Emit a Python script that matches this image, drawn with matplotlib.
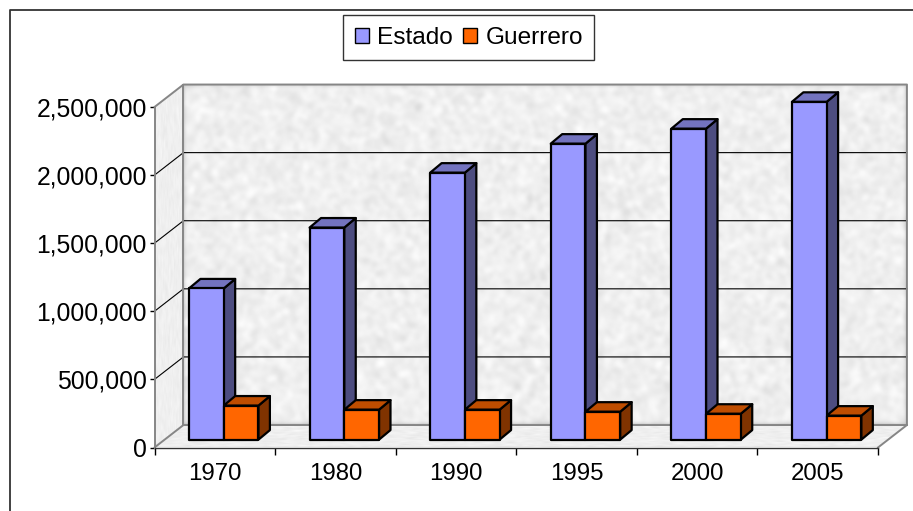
"""
plot.py
Estado vs Guerrero population, Excel style 3D column look
"""

import numpy as np
import matplotlib
matplotlib.use("Agg")
import matplotlib.pyplot as plt
from matplotlib.patches import Patch, Polygon

plt.rcParams["font.family"] = ["Liberation Sans", "DejaVu Sans"]

years = ["1970", "1980", "1990", "1995", "2000", "2005"]
estado = [1110000, 1557000, 1960000, 2173000, 2283000, 2480000]
guerrero = [250000, 220000, 220000, 205000, 190000, 176000]
y_ticks = [0, 500000, 1000000, 1500000, 2000000, 2500000]

# depth of the chart box, in data units
DX = 0.24
DY = 165000
# depth of a bar and where it sits inside the box
BAR_DX = 0.095
BAR_DY = 70000
BAR_Z = 0.35
BAR_W = 0.288
BAR_GAP = 0.202


def wall_texture(seed, shape=(340, 730)):
    """Mottled grey paper fill. Decoration only, carries no data."""
    rng = np.random.RandomState(seed)
    tex = rng.rand(*shape)
    for _ in range(3):
        k = np.ones(5) / 5
        tex = np.apply_along_axis(lambda r: np.convolve(r, k, mode="same"), 0, tex)
        tex = np.apply_along_axis(lambda r: np.convolve(r, k, mode="same"), 1, tex)
    tex = (tex - tex.mean()) / tex.std()
    return np.clip(0.935 + 0.022 * tex, 0, 1)


def textured(ax, pts, seed):
    """Fill a polygon (data coords) with the texture."""
    pts = np.array(pts)
    poly = Polygon(pts, closed=True, facecolor="none", edgecolor="none", clip_on=False)
    ax.add_patch(poly)
    im = ax.imshow(wall_texture(seed), cmap="gray", vmin=0, vmax=1, aspect="auto",
                   extent=(pts[:, 0].min(), pts[:, 0].max(), pts[:, 1].min(), pts[:, 1].max()),
                   interpolation="bilinear", zorder=0)
    im.set_clip_path(poly)
    im.set_clip_box(fig.bbox)


def draw_bar(ax, x, w, val, front, side, top):
    """One 3D column: front face, side face, top face."""
    x0 = x + BAR_Z * DX
    y0 = BAR_Z * DY
    x1 = x0 + w
    y1 = y0 + val
    ax.add_patch(Polygon([(x1, y0), (x1 + BAR_DX, y0 + BAR_DY), (x1 + BAR_DX, y1 + BAR_DY), (x1, y1)],
                         facecolor=side, edgecolor="black", lw=1.6, zorder=5, clip_on=False, joinstyle="round"))
    ax.add_patch(Polygon([(x0, y1), (x1, y1), (x1 + BAR_DX, y1 + BAR_DY), (x0 + BAR_DX, y1 + BAR_DY)],
                         facecolor=top, edgecolor="black", lw=1.6, zorder=5, clip_on=False, joinstyle="round"))
    ax.add_patch(Polygon([(x0, y0), (x1, y0), (x1, y1), (x0, y1)],
                         facecolor=front, edgecolor="black", lw=1.6, zorder=6, clip_on=False, joinstyle="round"))


fig = plt.figure(figsize=(9.13, 5.11), dpi=100)
ax = fig.add_axes([154.5 / 913, 1 - 447.5 / 511, (878 - 154.5) / 913, (447.5 - 107) / 511])
ax.patch.set_visible(False)

n = len(years)
top = y_ticks[-1]

# back wall, side wall, floor
textured(ax, [(DX, DY), (n + DX, DY), (n + DX, top + DY), (DX, top + DY)], 1)
textured(ax, [(0, 0), (DX, DY), (DX, top + DY), (0, top)], 2)
textured(ax, [(0, 0), (n, 0), (n + DX, DY), (DX, DY)], 3)

# gridlines run along the side wall then the back wall
for v in y_ticks[1:-1]:
    ax.plot([0, DX, n + DX], [v, v + DY, v + DY], color="black", lw=0.8, zorder=2, clip_on=False)

# box edges are grey
edge = "#868686"
ax.plot([0, DX, n + DX, n + DX, n, ], [top, top + DY, top + DY, DY, 0], color=edge, lw=1.4, zorder=2, clip_on=False)
ax.plot([DX, DX], [DY, top + DY], color=edge, lw=1.4, zorder=2, clip_on=False)
ax.plot([0, DX, n + DX], [0, DY, DY], color=edge, lw=1.4, zorder=2, clip_on=False)
ax.plot([0, 0], [0, top], color=edge, lw=1.4, zorder=2, clip_on=False)

for i in range(n):
    draw_bar(ax, i + BAR_GAP, BAR_W, estado[i], "#9999FF", "#4D4D80", "#7373BF")
    draw_bar(ax, i + BAR_GAP + BAR_W, BAR_W, guerrero[i], "#FF6600", "#803300", "#BF4D00")

ax.set_xlim(0, n)
ax.set_ylim(0, top)
ax.set_xticks(range(n + 1))
ax.set_xticklabels([])
ax.set_xticks(np.arange(n) + 0.5, labels=years, minor=True)
ax.set_yticks(y_ticks)
ax.set_yticklabels([f"{v:,}" for v in y_ticks])
ax.tick_params(axis="y", length=3.5, width=1, labelsize=17.8, pad=2)
ax.tick_params(axis="x", which="major", length=5, width=1)
ax.tick_params(axis="x", which="minor", length=0, labelsize=17.3, pad=11)
for s in ["top", "right"]:
    ax.spines[s].set_visible(False)
ax.spines["left"].set_visible(False)
ax.spines["bottom"].set_linewidth(1)
ax.spines["bottom"].set_color("#333333")

# outer frame, only top and left show in the crop
fig.add_artist(plt.Line2D([9.5 / 913, 9.5 / 913, 1], [0, 1 - 10 / 511, 1 - 10 / 511], color="#333333", lw=1.3))

fig.legend(handles=[Patch(facecolor="#9999FF", edgecolor="black", label="Estado"),
                    Patch(facecolor="#FF6600", edgecolor="black", label="Guerrero")],
           loc="upper left", bbox_to_anchor=(343.3 / 913, 1 - 15.5 / 511), ncol=2, fontsize=17.6,
           fancybox=False, framealpha=1, edgecolor="#333333", borderaxespad=0,
           handlelength=0.58, handleheight=0.58, handletextpad=0.33, columnspacing=0.42,
           borderpad=0.47)

fig.savefig("out.png", dpi=100)
